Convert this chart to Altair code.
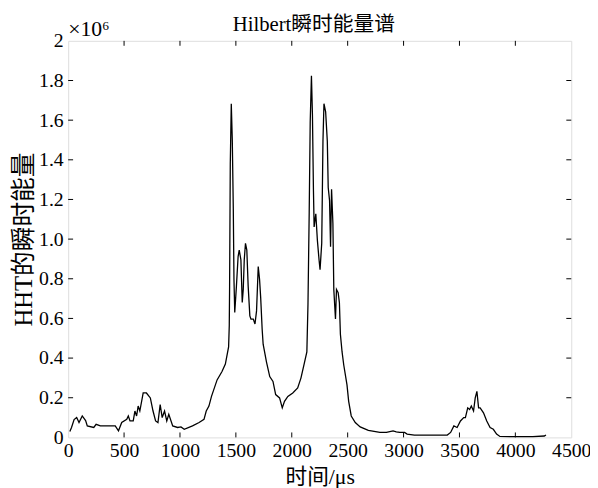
import altair as alt
import pandas as pd

# time (µs) and instantaneous energy (×10^6)
time_us = [15, 30, 53, 76, 97, 126, 156, 171, 229, 250, 288, 421, 450, 479, 524, 538, 553, 582,
           597, 612, 626, 641, 671, 700, 735, 759, 782, 803, 823, 841, 862, 882, 900, 935, 979,
           1009, 1038, 1112, 1171, 1215, 1235, 1259, 1282, 1332, 1376, 1406, 1435, 1441, 1444,
           1450, 1459, 1468, 1477, 1483, 1490, 1505, 1520, 1530, 1545, 1557, 1566, 1575, 1586,
           1598, 1610, 1625, 1635, 1656, 1671, 1685, 1700, 1712, 1722, 1735, 1744, 1774, 1803,
           1832, 1856, 1891, 1915, 1935, 1965, 2009, 2053, 2082, 2112, 2135, 2145, 2156, 2165,
           2176, 2185, 2194, 2200, 2215, 2229, 2244, 2253, 2268, 2279, 2288, 2303, 2318, 2326,
           2338, 2347, 2356, 2368, 2376, 2391, 2400, 2415, 2426, 2435, 2450, 2465, 2494, 2509,
           2532, 2568, 2612, 2685, 2788, 2847, 2906, 2935, 2965, 3009, 3032, 3097, 3391, 3421,
           3450, 3479, 3509, 3538, 3553, 3574, 3591, 3606, 3626, 3641, 3656, 3671, 3685, 3715,
           3744, 3774, 3803, 3832, 3862, 3979, 4156, 4259, 4274]
energy = [0.03, 0.05, 0.09, 0.10, 0.075, 0.108, 0.085, 0.058, 0.05, 0.066, 0.058, 0.058, 0.033,
          0.075, 0.091, 0.108, 0.083, 0.083, 0.133, 0.108, 0.158, 0.133, 0.224, 0.224, 0.199,
          0.133, 0.083, 0.075, 0.166, 0.10, 0.133, 0.083, 0.116, 0.058, 0.05, 0.053, 0.041,
          0.058, 0.075, 0.091, 0.133, 0.158, 0.207, 0.29, 0.332, 0.37, 0.456, 0.564, 0.763,
          1.377, 1.683, 1.50, 1.153, 0.796, 0.63, 0.763, 0.912, 0.945, 0.896, 0.68, 0.746,
          0.896, 0.979, 0.945, 0.763, 0.613, 0.597, 0.597, 0.572, 0.638, 0.862, 0.796, 0.705,
          0.547, 0.47, 0.38, 0.307, 0.282, 0.216, 0.199, 0.149, 0.182, 0.207, 0.224, 0.249,
          0.299, 0.373, 0.431, 0.672, 1.136, 1.592, 1.824, 1.625, 1.244, 1.061, 1.128, 0.995,
          0.896, 0.846, 0.979, 1.493, 1.683, 1.642, 1.493, 1.26, 1.194, 0.962, 1.252, 1.078,
          0.746, 0.597, 0.746, 0.73, 0.68, 0.52, 0.431, 0.365, 0.265, 0.182, 0.108, 0.075,
          0.053, 0.036, 0.025, 0.025, 0.033, 0.028, 0.025, 0.025, 0.017, 0.012, 0.012, 0.025,
          0.058, 0.05, 0.083, 0.10, 0.10, 0.149, 0.141, 0.158, 0.133, 0.199, 0.232, 0.149,
          0.149, 0.124, 0.083, 0.05, 0.041, 0.017, 0.005, 0.004, 0.004, 0.007, 0.012]

x_ticks = [0, 500, 1000, 1500, 2000, 2500, 3000, 3500, 4000, 4500]
y_ticks = [0, 0.2, 0.4, 0.6, 0.8, 1.0, 1.2, 1.4, 1.6, 1.8, 2.0]
chart_title = "Hilbert瞬时能量谱"
x_title = "时间/μs"
y_title = "HHT的瞬时能量"
multiplier = "×10⁶"

W, H = 510, 402
SERIF = "'Liberation Serif', 'Times New Roman', 'Noto Sans CJK SC', serif"

df = pd.DataFrame({"t": time_us, "e": energy})
xt = pd.DataFrame({"v": x_ticks[1:-1]})
yt = pd.DataFrame({"v": y_ticks[1:-1]})

xscale = alt.Scale(domain=[0, 4500], nice=False)
yscale = alt.Scale(domain=[0, 2], nice=False)

line = alt.Chart(df).mark_line(color="black", strokeWidth=1.3).encode(
    x=alt.X("t:Q", scale=xscale,
            axis=alt.Axis(values=x_ticks, format="d", ticks=False, domain=False, grid=False,
                          labelFont=SERIF, labelFontSize=20, labelColor="black",
                          labelPadding=3, labelFlush=False, labelOverlap=False,
                          title=x_title, titleFont=SERIF, titleFontSize=22,
                          titleFontWeight="normal", titleColor="black",
                          titleY=40, titleBaseline="middle")),
    y=alt.Y("e:Q", scale=yscale,
            axis=alt.Axis(values=y_ticks, ticks=False, domain=False, grid=False,
                          labelFont=SERIF, labelFontSize=20, labelColor="black",
                          labelPadding=5, labelFlush=False, labelOverlap=False,
                          labelExpr="datum.value == 0 ? '0' : datum.value == 2 ? '2' : format(datum.value, '.1f')",
                          title=y_title, titleFont=SERIF, titleFontSize=25,
                          titleFontWeight="normal", titleColor="black",
                          titleX=-45, titleY=H / 2, titleBaseline="middle")),
)

bt = alt.Chart(xt).mark_rule(color="black", strokeWidth=1).encode(
    x=alt.X("v:Q", scale=xscale), y=alt.value(H), y2=alt.value(H - 5))
tt = alt.Chart(xt).mark_rule(color="black", strokeWidth=1).encode(
    x=alt.X("v:Q", scale=xscale), y=alt.value(0), y2=alt.value(5))
lt = alt.Chart(yt).mark_rule(color="black", strokeWidth=1).encode(
    y=alt.Y("v:Q", scale=yscale), x=alt.value(0), x2=alt.value(5))
rt = alt.Chart(yt).mark_rule(color="black", strokeWidth=1).encode(
    y=alt.Y("v:Q", scale=yscale), x=alt.value(W - 5), x2=alt.value(W))

mult = alt.Chart(pd.DataFrame({"s": [multiplier]})).mark_text(
    align="left", baseline="alphabetic", font=SERIF, fontSize=22, color="black"
).encode(x=alt.value(0), y=alt.value(-5), text="s:N")

ttl = alt.Chart(pd.DataFrame({"s": [chart_title]})).mark_text(
    align="center", baseline="alphabetic", font=SERIF, fontSize=21, color="black"
).encode(x=alt.value(W / 2 - 6), y=alt.value(-10), text="s:N")

chart = alt.layer(line, bt, tt, lt, rt, mult, ttl).properties(
    width=W, height=H,
    autosize=alt.AutoSizeParams(type="none"),
    padding={"left": 61, "top": 30, "right": 19, "bottom": 48},
).configure_view(stroke="black", strokeWidth=1.2).configure(background="white")

chart.save("out.html", embed_options={"renderer": "svg", "actions": False})
